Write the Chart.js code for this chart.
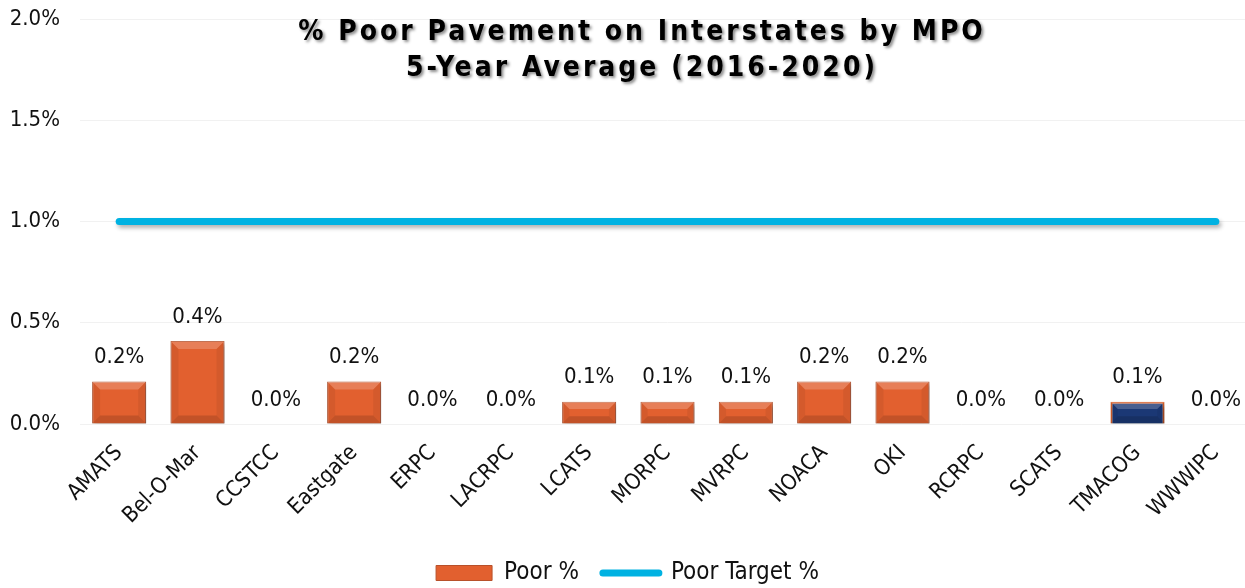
<!DOCTYPE html>
<html>
<head>
<meta charset="utf-8">
<script src="https://cdn.jsdelivr.net/npm/chart.js@4.4.1/dist/chart.umd.min.js"></script>
<style>
  html, body { margin: 0; padding: 0; background: #fff; overflow: hidden; }
  #wrap { position: relative; width: 1284px; height: 588px; }
</style>
</head>
<body>
<div id="wrap"><canvas id="pavementChart"></canvas></div>
<script>
// ==================== DATA ====================
const mpoNames = ['AMATS', 'Bel-O-Mar', 'CCSTCC', 'Eastgate', 'ERPC', 'LACRPC', 'LCATS',
    'MORPC', 'MVRPC', 'NOACA', 'OKI', 'RCRPC', 'SCATS', 'TMACOG', 'WWWIPC'];
const poorPct = [0.21, 0.41, 0.0, 0.21, 0.0, 0.0, 0.11, 0.11, 0.11, 0.21, 0.21, 0.0, 0.0, 0.11, 0.0];
const targetPct = [1.0, 1.0, 1.0, 1.0, 1.0, 1.0, 1.0, 1.0, 1.0, 1.0, 1.0, 1.0, 1.0, 1.0, 1.0];
const titleLines = ['% Poor Pavement on Interstates by MPO', '5-Year Average (2016-2020)'];
const highlightMpo = 'TMACOG';

// ==================== STYLE ====================
const FONT = "'DejaVu Sans Condensed', 'DejaVu Sans', sans-serif";
const ORANGE = '#E2602F';
const NAVY = '#1B3875';
const BLUE = '#00B2E2';
const TEXT = '#111111';

// ==================== PLUGINS ====================
// chart title drawn over the plot, with a soft shadow
const titlePlugin = {
    id: 'overlayTitle',
    afterDraw(chart) {
        const ctx = chart.ctx;
        ctx.save();
        ctx.font = `bold 28px ${FONT}`;
        ctx.letterSpacing = '3px';
        ctx.fillStyle = '#000';
        ctx.textAlign = 'center';
        ctx.textBaseline = 'middle';
        ctx.shadowColor = 'rgba(0,0,0,0.45)';
        ctx.shadowOffsetX = 2;
        ctx.shadowOffsetY = 2;
        ctx.shadowBlur = 3;
        titleLines.forEach((line, i) => {
            ctx.fillText(line, chart.width / 2, 33 + i * 36);
        });
        ctx.restore();
    }
};

// bevel on bars, shadow on line, value labels
const barBevelPlugin = {
    id: 'barBevel',
    beforeDatasetDraw(chart, args) {
        const ctx = chart.ctx;
        ctx.save();
        ctx.shadowColor = 'rgba(0,0,0,0.3)';
        ctx.shadowOffsetX = 2;
        ctx.shadowOffsetY = 3;
        ctx.shadowBlur = 4;
    },
    afterDatasetDraw(chart, args) {
        const ctx = chart.ctx;
        ctx.restore();
        if (args.index !== 0) return;
        const meta = chart.getDatasetMeta(0);
        meta.data.forEach((bar) => {
            const h = bar.base - bar.y;
            if (h <= 1) return;
            const l = bar.x - bar.width / 2, r = bar.x + bar.width / 2;
            const t = bar.y, b = bar.base;
            const d = Math.min(8, h / 3);
            ctx.save();
            // top light
            ctx.fillStyle = 'rgba(255,255,255,0.2)';
            ctx.beginPath();
            ctx.moveTo(l, t); ctx.lineTo(r, t); ctx.lineTo(r - d, t + d); ctx.lineTo(l + d, t + d);
            ctx.closePath(); ctx.fill();
            // bottom dark
            ctx.fillStyle = 'rgba(0,0,0,0.14)';
            ctx.beginPath();
            ctx.moveTo(l, b); ctx.lineTo(r, b); ctx.lineTo(r - d, b - d); ctx.lineTo(l + d, b - d);
            ctx.closePath(); ctx.fill();
            // sides
            ctx.fillStyle = 'rgba(0,0,0,0.06)';
            ctx.beginPath();
            ctx.moveTo(l, t); ctx.lineTo(l + d, t + d); ctx.lineTo(l + d, b - d); ctx.lineTo(l, b);
            ctx.closePath(); ctx.fill();
            ctx.beginPath();
            ctx.moveTo(r, t); ctx.lineTo(r - d, t + d); ctx.lineTo(r - d, b - d); ctx.lineTo(r, b);
            ctx.closePath(); ctx.fill();
            ctx.restore();
        });
    },
    afterDatasetsDraw(chart) {
        const ctx = chart.ctx;
        const meta = chart.getDatasetMeta(0);
        ctx.save();
        ctx.font = `22px ${FONT}`;
        ctx.fillStyle = TEXT;
        ctx.textAlign = 'center';
        ctx.textBaseline = 'middle';
        meta.data.forEach((bar, i) => {
            ctx.fillText(poorPct[i].toFixed(1) + '%', bar.x, bar.y - 24);
        });
        ctx.restore();
    }
};

// ==================== CHART ====================
const ctx = document.getElementById('pavementChart').getContext('2d');

const pavementChart = new Chart(ctx, {
    type: 'bar',
    data: {
        labels: mpoNames,
        datasets: [{
            label: 'Poor %',
            data: poorPct,
            backgroundColor: (c) => mpoNames[c.dataIndex] === highlightMpo ? NAVY : ORANGE,
            borderColor: (c) => mpoNames[c.dataIndex] === highlightMpo ? '#D9602C' : '#B8502A',
            borderWidth: (c) => mpoNames[c.dataIndex] === highlightMpo ? 2 : 1,
            barPercentage: 0.69,
            categoryPercentage: 1.0,
            order: 2
        }, {
            type: 'line',
            label: 'Poor Target %',
            data: targetPct,
            borderColor: BLUE,
            backgroundColor: BLUE,
            borderWidth: 7,
            borderCapStyle: 'round',
            pointRadius: 0,
            fill: false,
            order: 1
        }]
    },
    options: {
        responsive: true,
        maintainAspectRatio: false,
        animation: false,
        layout: { padding: { top: 19, left: 0, right: 29, bottom: -7 } },
        plugins: {
            title: { display: false },
            tooltip: { enabled: false },
            legend: {
                position: 'bottom',
                labels: {
                    usePointStyle: true,
                    pointStyleWidth: 56,
                    boxWidth: 56,
                    boxHeight: 15,
                    padding: 24,
                    color: TEXT,
                    font: { family: FONT, size: 24 },
                    sort: (a, b) => a.datasetIndex - b.datasetIndex,
                    generateLabels(chart) {
                        const items = Chart.defaults.plugins.legend.labels.generateLabels(chart);
                        items.forEach(it => {
                            if (it.datasetIndex === 0) {
                                it.pointStyle = 'rect';
                                it.fillStyle = ORANGE;
                                it.strokeStyle = '#B8502A';
                                it.lineWidth = 1;
                            } else {
                                it.pointStyle = 'line';
                                it.strokeStyle = BLUE;
                                it.lineWidth = 7;
                                it.lineCap = 'round';
                            }
                        });
                        return items;
                    }
                }
            }
        },
        scales: {
            x: {
                grid: { display: false },
                border: { display: false },
                ticks: {
                    color: TEXT,
                    font: { family: FONT, size: 22 },
                    minRotation: 45,
                    maxRotation: 45,
                    padding: 8
                },
                afterFit(scale) { scale.height = 113; }
            },
            y: {
                min: 0,
                max: 2.0,
                grid: { color: '#F1F1F1', drawTicks: true, tickLength: 16, tickColor: 'rgba(0,0,0,0)' },
                border: { display: false },
                ticks: {
                    stepSize: 0.5,
                    color: TEXT,
                    padding: 4,
                    font: { family: FONT, size: 22 },
                    callback: (v) => v.toFixed(1) + '%'
                },
                afterFit(scale) { scale.width = 80; }
            }
        }
    },
    plugins: [barBevelPlugin, titlePlugin]
});
</script>
</body>
</html>
